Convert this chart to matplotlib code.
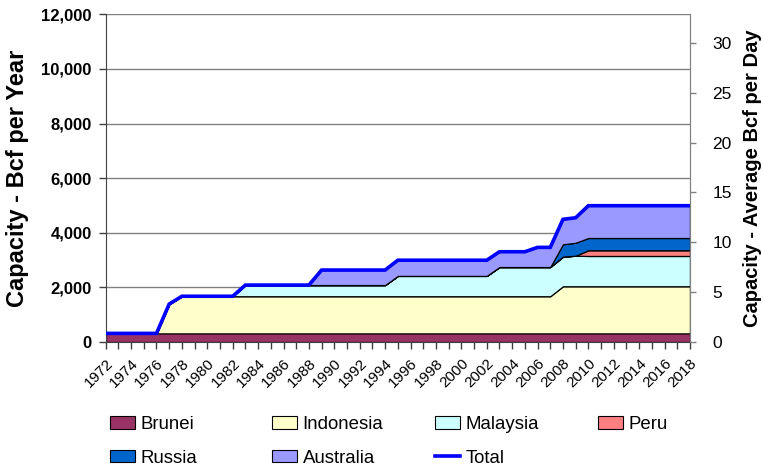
import matplotlib
matplotlib.use("Agg")
import matplotlib.pyplot as plt
from matplotlib.patches import Patch
from matplotlib.lines import Line2D
import numpy as np

plt.rcParams['font.family'] = ['Liberation Sans', 'DejaVu Sans']

years = list(range(1972, 2019))

# LNG liquefaction capacity, Bcf per year
brunei = [315, 315, 315, 315, 315, 315, 315, 315, 315, 315,
          315, 315, 315, 315, 315, 315, 315, 315, 315, 315,
          315, 315, 315, 315, 315, 315, 315, 315, 315, 315,
          315, 315, 315, 315, 315, 315, 315, 315, 315, 315,
          315, 315, 315, 315, 315, 315, 315]
indonesia = [0, 0, 0, 0, 0, 1075, 1360, 1360, 1360, 1360,
             1360, 1360, 1360, 1360, 1360, 1360, 1360, 1360, 1360, 1360,
             1360, 1360, 1360, 1360, 1360, 1360, 1360, 1360, 1360, 1360,
             1360, 1360, 1360, 1360, 1360, 1360, 1725, 1725, 1725, 1725,
             1725, 1725, 1725, 1725, 1725, 1725, 1725]
malaysia = [0, 0, 0, 0, 0, 0, 0, 0, 0, 0,
            0, 410, 410, 410, 410, 410, 410, 410, 410, 410,
            410, 410, 410, 745, 745, 745, 745, 745, 745, 745,
            745, 1070, 1070, 1070, 1070, 1070, 1085, 1120, 1110, 1110,
            1110, 1110, 1110, 1110, 1110, 1110, 1110]
peru = [0, 0, 0, 0, 0, 0, 0, 0, 0, 0,
        0, 0, 0, 0, 0, 0, 0, 0, 0, 0,
        0, 0, 0, 0, 0, 0, 0, 0, 0, 0,
        0, 0, 0, 0, 0, 0, 0, 0, 208, 208,
        208, 208, 208, 208, 208, 208, 208]
russia = [0, 0, 0, 0, 0, 0, 0, 0, 0, 0,
          0, 0, 0, 0, 0, 0, 0, 0, 0, 0,
          0, 0, 0, 0, 0, 0, 0, 0, 0, 0,
          0, 0, 0, 0, 0, 0, 453, 474, 450, 450,
          450, 450, 450, 450, 450, 450, 450]
australia = [0, 0, 0, 0, 0, 0, 0, 0, 0, 0,
             0, 0, 0, 0, 0, 0, 0, 550, 550, 550,
             550, 550, 550, 575, 575, 575, 575, 575, 575, 575,
             575, 560, 560, 560, 720, 720, 914, 916, 1183, 1183,
             1183, 1183, 1183, 1183, 1183, 1183, 1183]

series_names = ["Brunei", "Indonesia", "Malaysia", "Peru", "Russia", "Australia"]
series_values = [brunei, indonesia, malaysia, peru, russia, australia]
series_colors = ["#993366", "#FFFFCC", "#CCFFFF", "#FF8080", "#0066CC", "#9999FF"]

total = np.sum(np.array(series_values), axis=0)

fig = plt.figure(figsize=(7.63, 4.71), dpi=100)
ax = fig.add_axes([0.1385, 0.2739, 0.9043 - 0.1385, 0.9696 - 0.2739])

ax.stackplot(years, *series_values, colors=series_colors,
             edgecolor="black", linewidth=0.9, zorder=2)
ax.plot(years, total, color="#0000FF", linewidth=2.6, zorder=3,
        solid_joinstyle="miter")

ax.set_xlim(1972, 2018)
ax.set_ylim(0, 12000)
ax.set_yticks(range(0, 12001, 2000))
ax.set_yticklabels([f"{v:,}" for v in range(0, 12001, 2000)],
                   fontsize=12, fontweight="bold")
ax.yaxis.grid(True, color="#808080", linewidth=1.0, zorder=0)
ax.set_axisbelow(True)

ax.set_xticks(years)
ax.set_xticklabels([str(y) if y % 2 == 0 else "" for y in years],
                   rotation=45, ha="right", rotation_mode="anchor", fontsize=11)
ax.tick_params(axis="x", direction="out", length=5, width=1, color="#404040", pad=5)
ax.tick_params(axis="y", direction="out", length=5, width=1, color="#404040", pad=5)

ax.spines["top"].set_visible(False)
ax.spines["left"].set_color("#404040")
ax.spines["bottom"].set_color("#404040")
ax.spines["right"].set_color("#808080")

ax.set_ylabel("Capacity - Bcf per Year", fontsize=17, fontweight="bold", labelpad=9)

ax2 = ax.twinx()
ax2.set_ylim(0, 12000 / 365)
ax2.set_yticks(range(0, 31, 5))
ax2.set_yticklabels([str(v) for v in range(0, 31, 5)], fontsize=12.5)
ax2.tick_params(axis="y", direction="out", length=4, width=1, color="#808080", pad=12)
for side in ("top", "left", "bottom"):
    ax2.spines[side].set_visible(False)
ax2.spines["right"].set_color("#808080")
ax2.set_ylabel("Capacity - Average Bcf per Day", fontsize=14.5, fontweight="bold",
               labelpad=8)

# Legend: four fixed-width columns, two rows
handles = {name: Patch(facecolor=c, edgecolor="black", linewidth=0.8)
           for name, c in zip(series_names, series_colors)}
handles["Total"] = Line2D([], [], color="#0000FF", linewidth=2.6)
columns = [["Brunei", "Russia"], ["Indonesia", "Australia"],
           ["Malaysia", "Total"], ["Peru"]]
col_x = [110, 272, 435, 598]
for names, x in zip(columns, col_x):
    fig.legend([handles[n] for n in names], names,
               loc="upper left", bbox_to_anchor=(x / 763, 1 - 416 / 471),
               frameon=False, fontsize=13.4, handlelength=1.35,
               handleheight=0.65, handletextpad=0.3, labelspacing=0.9,
               borderpad=0, borderaxespad=0)

fig.savefig("out.png", dpi=100)
